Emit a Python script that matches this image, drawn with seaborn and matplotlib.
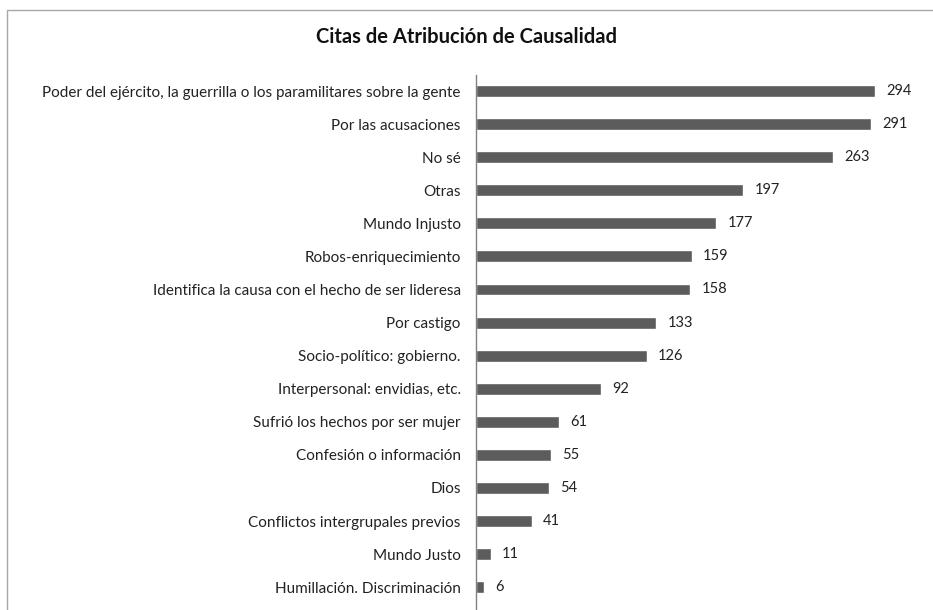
import matplotlib
matplotlib.use("Agg")
import matplotlib.pyplot as plt
import matplotlib.patches as patches
import seaborn as sns
import pandas as pd

# categories and counts, top to bottom as shown
categories = [
    "Poder del ejército, la guerrilla o los paramilitares sobre la gente",
    "Por las acusaciones",
    "No sé",
    "Otras",
    "Mundo Injusto",
    "Robos-enriquecimiento",
    "Identifica la causa con el hecho de ser lideresa",
    "Por castigo",
    "Socio-político: gobierno.",
    "Interpersonal: envidias, etc.",
    "Sufrió los hechos por ser mujer",
    "Confesión o información",
    "Dios",
    "Conflictos intergrupales previos",
    "Mundo Justo",
    "Humillación. Discriminación",
]
citas = [294, 291, 263, 197, 177, 159, 158, 133, 126, 92, 61, 55, 54, 41, 11, 6]

df = pd.DataFrame({"categoria": categories, "citas": citas})

sns.set_style("white")
plt.rcParams["font.family"] = ["Lato", "DejaVu Sans"]

fig = plt.figure(figsize=(9.33, 6.1), dpi=100)
ax_left = 476 / 933
ax_right = 928 / 933
ax = fig.add_axes([ax_left, 0.0, ax_right - ax_left, 1 - 75 / 610])

sns.barplot(data=df, y="categoria", x="citas", orient="h", color="#5c5c5c",
            saturation=1, width=0.36, ax=ax)

for bar, v in zip(ax.patches, citas):
    ax.annotate(str(v), (bar.get_width(), bar.get_y() + bar.get_height() / 2),
                xytext=(8, 0), textcoords="offset points",
                va="center", ha="left", fontsize=10.5, color="#222222")

ax.set_xlim(0, (928 - 476) / 1.357)
ax.set_ylim(15.69, -0.484)
ax.set_xlabel("")
ax.set_ylabel("")
ax.set_xticks([])
ax.tick_params(axis="y", length=0, pad=11, labelsize=11, labelcolor="#222222")
for s in ["top", "right", "bottom"]:
    ax.spines[s].set_visible(False)
ax.spines["left"].set_color("#808080")
ax.spines["left"].set_linewidth(1)

fig.text(0.5, 1 - 37 / 610, "Citas de Atribución de Causalidad", ha="center",
         va="center", fontsize=14.5, fontweight="bold", color="#111111")

# outer chart frame (cropped on the right and bottom in the source)
fig.patches.append(patches.Rectangle((7 / 933, -0.1), 1.2, 1 - 10 / 610 + 0.1,
                                     transform=fig.transFigure, fill=False,
                                     edgecolor="#a8a8a8", linewidth=1))

fig.savefig("out.png", dpi=100)
